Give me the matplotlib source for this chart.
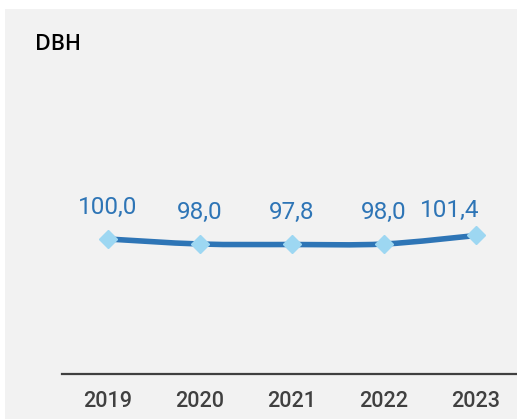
import matplotlib
matplotlib.use("Agg")
import matplotlib.pyplot as plt
from matplotlib.path import Path
from matplotlib.patches import PathPatch, Rectangle

years = ["2019", "2020", "2021", "2022", "2023"]
values = [100.0, 98.0, 97.8, 98.0, 101.4]
labels = ["100,0", "98,0", "97,8", "98,0", "101,4"]

line_color = "#2e75b6"
marker_color = "#9dd7f2"
bg = "#f2f2f2"

W, H = 517, 419
fig = plt.figure(figsize=(W / 100, H / 100), dpi=100)
fig.patch.set_facecolor("white")
# grey panel
fig.patches.append(Rectangle((5 / W, 0), 1, 1 - 9 / H, transform=fig.transFigure,
                             facecolor=bg, edgecolor="none", zorder=-10))

ax = fig.add_axes([62 / W, 45 / H, (W - 62) / W, (374 - 60) / H])
ax.set_facecolor("none")

x = list(range(len(years)))

# smooth line through the points (Catmull-Rom as cubic Bezier)
verts = [(x[0], values[0])]
codes = [Path.MOVETO]
n = len(x)
for i in range(n - 1):
    p0 = (x[max(i - 1, 0)], values[max(i - 1, 0)])
    p1 = (x[i], values[i])
    p2 = (x[i + 1], values[i + 1])
    p3 = (x[min(i + 2, n - 1)], values[min(i + 2, n - 1)])
    c1 = (p1[0] + (p2[0] - p0[0]) / 6, p1[1] + (p2[1] - p0[1]) / 6)
    c2 = (p2[0] - (p3[0] - p1[0]) / 6, p2[1] - (p3[1] - p1[1]) / 6)
    verts += [c1, c2, p2]
    codes += [Path.CURVE4] * 3
ax.add_patch(PathPatch(Path(verts, codes), facecolor="none", edgecolor=line_color,
                       linewidth=4, capstyle="round", zorder=2))

ax.plot(x, values, linestyle="none", marker="D", markersize=9,
        color=marker_color, markeredgecolor=marker_color, zorder=3)

for i, (xi, v, lab) in enumerate(zip(x, values, labels)):
    # last label is nudged left so it stays inside the panel
    off = (-19, 18) if i == n - 1 else (0, 23)
    ax.annotate(lab, (xi, v), xytext=off, textcoords="offset points",
                ha="center", va="center", fontsize=17.5, color=line_color,
                family="Roboto")

ax.set_xlim(-0.5, (W - 108) / 92)
ax.set_ylim(46, 171.6)
for s in ["top", "right", "left"]:
    ax.spines[s].set_visible(False)
ax.spines["bottom"].set_color("#404040")
ax.spines["bottom"].set_linewidth(1.6)
ax.set_yticks([])
ax.set_xticks(x)
ax.set_xticklabels(years, family="Roboto", fontweight="medium", fontsize=15.5,
                   color="#404040")
ax.tick_params(axis="x", length=0, pad=12)

fig.text(35 / W, 1 - 45 / H, "DBH", ha="left", va="center", fontsize=15.5,
         family="Open Sans", fontweight="semibold", color="black")

fig.savefig("out.png", dpi=100, facecolor=fig.get_facecolor())
